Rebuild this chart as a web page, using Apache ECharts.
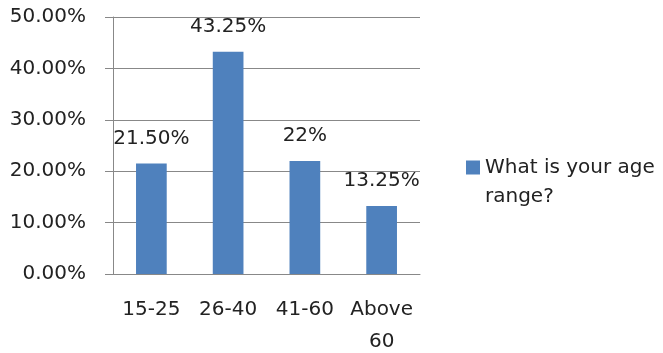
<!DOCTYPE html>
<html>
<head>
<meta charset="utf-8">
<script src="https://cdn.jsdelivr.net/npm/echarts@6/dist/echarts.min.js"></script>
<style>
  html, body { margin: 0; padding: 0; background: #fff; }
  #chart { width: 663px; height: 353px; }
</style>
</head>
<body>
<div id="chart"></div>
<script>
// Age ranges of respondents and their share (in percent)
const categories = ['15-25', '26-40', '41-60', 'Above 60'];
const shares = [21.5, 43.25, 22, 13.25];
const shareDecimals = [2, 2, 0, 2];
const seriesName = 'What is your age range?';
const yTicks = [0, 10, 20, 30, 40, 50];

const FONT = 'DejaVu Sans';
const TEXT = '#222222';
const LINE = '#888888';

const chart = echarts.init(document.getElementById('chart'));
chart.setOption({
  animation: false,
  grid: { left: 113, right: 243, top: 17, bottom: 79, outerBoundsMode: 'none' },
  legend: {
    left: 461,
    top: 119,
    itemWidth: 14,
    itemHeight: 14,
    itemGap: 0,
    icon: 'rect',
    data: [seriesName],
    // leading empty line keeps the first text line level with the swatch
    formatter: () => '\nWhat is your age\nrange?',
    textStyle: {
      fontFamily: FONT, fontSize: 20, color: TEXT,
      lineHeight: 29
    }
  },
  xAxis: {
    type: 'category',
    data: categories,
    axisLine: { lineStyle: { color: LINE, width: 1 } },
    axisTick: { length: 9, lineStyle: { color: LINE } },
    axisLabel: {
      fontFamily: FONT, fontSize: 20, color: TEXT, lineHeight: 32, margin: 20,
      interval: 0,
      formatter: v => v.replace(' ', '\n')
    }
  },
  yAxis: {
    type: 'value',
    min: yTicks[0],
    max: yTicks[yTicks.length - 1],
    interval: 10,
    axisLine: { show: true, lineStyle: { color: LINE, width: 1 } },
    axisTick: { show: true, length: 8, lineStyle: { color: LINE } },
    splitLine: { lineStyle: { color: LINE, width: 1 } },
    axisLabel: {
      fontFamily: FONT, fontSize: 20, color: TEXT, margin: 27,
      formatter: v => v.toFixed(2) + '%'
    }
  },
  series: [{
    name: seriesName,
    type: 'bar',
    data: shares,
    barCategoryGap: '60%',
    itemStyle: { color: '#4F81BD' },
    label: {
      show: true,
      position: 'top',
      distance: 13,
      fontFamily: FONT, fontSize: 20, color: TEXT, lineHeight: 24,
      formatter: p => p.value.toFixed(shareDecimals[p.dataIndex]) + '%'
    }
  }]
});
</script>
</body>
</html>
